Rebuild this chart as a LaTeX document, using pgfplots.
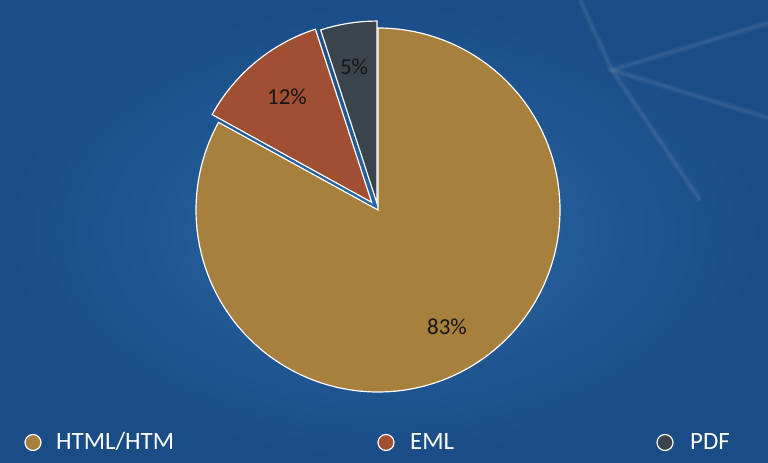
\documentclass[border=0pt]{standalone}
\usepackage{fontspec}
\setmainfont{Carlito}
\usepackage{pgfplots}
\pgfplotsset{compat=1.18}

\definecolor{bgmid}{RGB}{40,104,165}
\definecolor{bgout}{RGB}{26,76,134}
\definecolor{htmlc}{RGB}{167,128,62}
\definecolor{emlc}{RGB}{161,79,50}
\definecolor{pdfc}{RGB}{59,67,77}
\definecolor{labc}{RGB}{22,22,22}

% shares in percent
\def\vHTML{83}
\def\vEML{12}
\def\vPDF{5}

\begin{document}
\begin{tikzpicture}
% slice angles, clockwise from 12 o'clock
\pgfmathsetmacro{\aA}{90}
\pgfmathsetmacro{\aB}{\aA-3.6*\vHTML}
\pgfmathsetmacro{\aC}{\aB-3.6*\vEML}
\pgfmathsetmacro{\aD}{\aC-3.6*\vPDF}
% exploded slices
\pgfmathsetmacro{\mE}{(\aB+\aC)/2}
\pgfmathsetmacro{\exE}{378+10*cos(\mE)}
\pgfmathsetmacro{\eyE}{253+10*sin(\mE)}
\pgfmathsetmacro{\mP}{(\aC+\aD)/2}
\pgfmathsetmacro{\exP}{378+7*cos(\mP)}
\pgfmathsetmacro{\eyP}{253+7*sin(\mP)}
\begin{axis}[
    width=768bp, height=463bp,
    scale only axis,
    xmin=0, xmax=768, ymin=0, ymax=463,
    hide axis,
]
\shade[inner color=bgmid, outer color=bgout] (axis cs:0,0) rectangle (axis cs:768,463);
% faint light streaks of the backdrop
\draw[white, opacity=0.05, line width=6pt] (axis cs:580,463) -- (axis cs:612,393) -- (axis cs:768,345);
\draw[white, opacity=0.05, line width=6pt] (axis cs:768,440) -- (axis cs:612,393) -- (axis cs:700,263);
\draw[white, opacity=0.06, line width=2pt] (axis cs:580,463) -- (axis cs:612,393) -- (axis cs:768,345);
\draw[white, opacity=0.06, line width=2pt] (axis cs:768,440) -- (axis cs:612,393) -- (axis cs:700,263);

\addplot[fill=htmlc, draw=white, line width=1.2pt, domain=\aB:\aA, samples=200, variable=\t]
    ({378+182*cos(\t)},{253+182*sin(\t)}) -- (axis cs:378,253) -- cycle;
\addplot[fill=emlc, draw=white, line width=1.2pt, domain=\aC:\aB, samples=40, variable=\t]
    ({\exE+182*cos(\t)},{\eyE+182*sin(\t)}) -- (axis cs:\exE,\eyE) -- cycle;
\addplot[fill=pdfc, draw=white, line width=1.2pt, domain=\aD:\aC, samples=20, variable=\t]
    ({\exP+182*cos(\t)},{\eyP+182*sin(\t)}) -- (axis cs:\exP,\eyP) -- cycle;

\node[text=labc, font=\fontsize{23}{27}\selectfont] at (axis cs:447,136) {\vHTML\%};
\node[text=labc, font=\fontsize{23}{27}\selectfont] at (axis cs:287,366) {\vEML\%};
\node[text=labc, font=\fontsize{23}{27}\selectfont] at (axis cs:354,396) {\vPDF\%};

% legend
\addplot[only marks, mark=*, mark size=8bp, mark options={fill=htmlc, draw=white, line width=1.2pt}] coordinates {(33,20.5)};
\addplot[only marks, mark=*, mark size=8bp, mark options={fill=emlc, draw=white, line width=1.2pt}] coordinates {(386,20.5)};
\addplot[only marks, mark=*, mark size=8bp, mark options={fill=pdfc, draw=white, line width=1.2pt}] coordinates {(665,20.5)};
\node[anchor=base west, inner sep=0pt, text=white, font=\fontsize{25}{29}\selectfont] at (axis cs:56,14) {HTML/HTM};
\node[anchor=base west, inner sep=0pt, text=white, font=\fontsize{25}{29}\selectfont] at (axis cs:410,14) {EML};
\node[anchor=base west, inner sep=0pt, text=white, font=\fontsize{25}{29}\selectfont] at (axis cs:690,14) {PDF};
\end{axis}
\end{tikzpicture}
\end{document}
